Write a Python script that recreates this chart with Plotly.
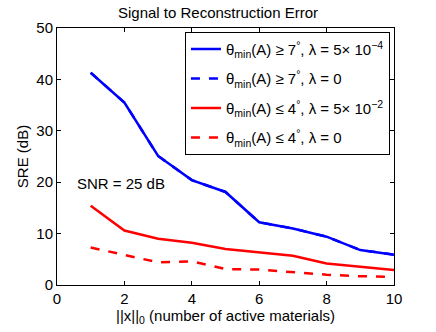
import plotly.graph_objects as go

k = [1, 2, 3, 4, 5, 6, 7, 8, 9, 10]

blue_lam = [41.3, 35.5, 25.1, 20.4, 18.1, 12.2, 11.0, 9.4, 6.8, 5.9]
blue_zero = [41.3, 35.5, 25.1, 20.4, 18.1, 12.2, 11.0, 9.4, 6.8, 5.9]
red_lam = [15.4, 10.6, 9.0, 8.2, 7.0, 6.4, 5.7, 4.2, 3.5, 2.9]
red_zero = [7.3, 5.8, 4.4, 4.6, 3.1, 3.0, 2.5, 2.0, 1.7, 1.6]

names = [
    "θ<sub>min</sub>(A) ≥ 7<sup>°</sup>, λ = 5× 10<sup>−4</sup>",
    "θ<sub>min</sub>(A) ≥ 7<sup>°</sup>, λ = 0",
    "θ<sub>min</sub>(A) ≤ 4<sup>°</sup>, λ = 5× 10<sup>−2</sup>",
    "θ<sub>min</sub>(A) ≤ 4<sup>°</sup>, λ = 0",
]

FONT = "Liberation Sans, Arial, sans-serif"

fig = go.Figure()
# dashed blue first so the solid one sits on top of it
fig.add_trace(go.Scatter(x=k, y=blue_zero, mode="lines", name=names[1], legendgroup="b0",
                         line=dict(color="#0000ff", width=2.5, dash="dash"), legendrank=2))
fig.add_trace(go.Scatter(x=k, y=blue_lam, mode="lines", name=names[0], legendgroup="b1",
                         line=dict(color="#0000ff", width=2.5), legendrank=1))
fig.add_trace(go.Scatter(x=k, y=red_lam, mode="lines", name=names[2], legendgroup="r1",
                         line=dict(color="#ff0000", width=2.5), legendrank=3))
fig.add_trace(go.Scatter(x=k, y=red_zero, mode="lines", name=names[3], legendgroup="r0",
                         line=dict(color="#ff0000", width=2.5, dash="dash"), legendrank=4))

fig.add_annotation(x=1.9, y=19.7, text="SNR = 25 dB", showarrow=False,
                   font=dict(family=FONT, size=15, color="black"))

axis_style = dict(showline=True, linecolor="black", linewidth=1, mirror="allticks",
                  ticks="inside", ticklen=4, tickcolor="black", showgrid=False,
                  zeroline=False, tickfont=dict(family=FONT, size=15, color="black"))

fig.update_layout(
    width=436, height=332,
    margin=dict(l=57, r=42, t=28, b=45),
    paper_bgcolor="white", plot_bgcolor="white",
    font=dict(family=FONT, size=15, color="black"),
    title=dict(text="Signal to Reconstruction Error", x=0.5, xanchor="center",
               y=0.962, yanchor="middle", font=dict(family=FONT, size=15)),
    xaxis=dict(range=[0, 10], tickvals=[0, 2, 4, 6, 8, 10],
               title=dict(text="||x||<sub>0</sub> (number of active materials)", standoff=2,
                          font=dict(family=FONT, size=15)),
               **axis_style),
    yaxis=dict(range=[0, 50], tickvals=[0, 10, 20, 30, 40, 50],
               title=dict(text="SRE (dB)", standoff=4, font=dict(family=FONT, size=15)),
               **axis_style),
    legend=dict(x=0.988, xanchor="right", y=0.985, yanchor="top",
                bordercolor="black", borderwidth=1, bgcolor="white",
                font=dict(family=FONT, size=15), tracegroupgap=7),
    showlegend=True,
)

# the page's default body margin would push the figure 8px down and right
fig.write_html("out.html", config={"displayModeBar": False},
               post_script="document.body.style.margin='0';")
